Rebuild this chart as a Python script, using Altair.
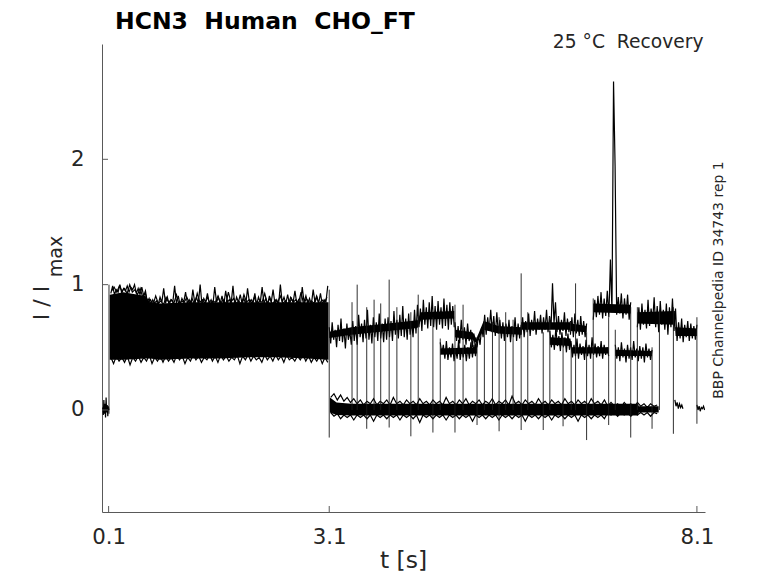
import altair as alt
import pandas as pd

# ---------------- values ----------------
X_TICKS = [0.1, 3.1, 8.1]
Y_TICKS = [0, 1, 2]
X_DOMAIN = [0.01, 8.21]
Y_DOMAIN = [-0.814, 2.92]

# dense cores of the overlaid sweeps: (name, t, lower, upper)
BANDS = [
    ("b1", [0.115, 0.30, 0.60, 0.66, 0.80, 1.20, 1.60, 2.00, 2.40, 2.80, 3.09],
           [0.40, 0.40, 0.41, 0.41, 0.40, 0.41, 0.41, 0.42, 0.42, 0.41, 0.40],
           [0.92, 0.94, 0.91, 0.86, 0.85, 0.86, 0.86, 0.86, 0.86, 0.86, 0.86]),
    ("b2", [3.11, 3.20, 3.40, 7.30, 7.31, 7.58],
           [-0.02, -0.04, -0.045, -0.045, -0.02, -0.02],
           [0.10, 0.06, 0.05, 0.05, 0.03, 0.03]),
    ("ub1", [3.10, 3.40, 3.90, 4.30, 4.35, 4.80],
            [0.575, 0.60, 0.63, 0.655, 0.72, 0.73],
            [0.625, 0.66, 0.69, 0.715, 0.78, 0.79]),
    ("ub2", [4.81, 5.05, 5.11], [0.58, 0.56, 0.53], [0.64, 0.62, 0.56]),
    ("ub3", [5.11, 5.20, 5.40, 5.71], [0.54, 0.64, 0.61, 0.60], [0.58, 0.71, 0.67, 0.66]),
    ("ub4", [5.71, 6.38], [0.64, 0.64], [0.70, 0.70]),
    ("ub5", [6.38, 6.60], [0.63, 0.62], [0.69, 0.67]),
    ("ub6", [6.69, 7.20], [0.78, 0.77], [0.85, 0.84]),
    ("ub7", [7.29, 7.80, 7.81, 8.10], [0.69, 0.68, 0.59, 0.59], [0.78, 0.79, 0.66, 0.65]),
    ("lb1", [4.61, 5.11], [0.44, 0.45], [0.49, 0.50]),
    ("lb2", [6.10, 6.38, 6.40, 6.90], [0.52, 0.51, 0.45, 0.45], [0.58, 0.57, 0.50, 0.50]),
    ("lb3", [6.99, 7.49], [0.43, 0.43], [0.48, 0.47]),
]

# noisy traces: (name, t start, t end, samples)
TOP1 = [0.93, 0.99, 0.92, 0.96, 0.94, 1.00, 0.93, 0.97, 0.95, 0.99, 0.94, 0.98, 0.96, 1.00, 0.93, 0.97, 0.92, 0.98, 0.91, 0.95,
        0.86, 0.89, 0.84, 0.88, 0.85, 0.87, 0.84, 0.90, 0.86, 0.97, 0.85, 0.90, 0.84, 0.88, 0.86, 0.99, 0.85, 0.91, 0.84, 0.89,
        0.86, 0.94, 0.85, 0.88, 0.84, 0.96, 0.86, 0.90, 0.85, 1.00, 0.84, 0.89, 0.86, 0.93, 0.85, 0.88, 0.84, 0.98, 0.86, 0.90,
        0.85, 0.91, 0.84, 0.95, 0.86, 0.88, 0.85, 0.99, 0.84, 0.90, 0.86, 0.92, 0.85, 0.89, 0.84, 0.97, 0.86, 0.88, 0.85, 0.93,
        0.84, 0.90, 0.86, 0.98, 0.85, 0.89, 0.84, 0.91, 0.86, 0.96, 0.85, 0.88, 0.84, 1.00, 0.86, 0.90, 0.85, 0.92, 0.84, 0.89,
        0.86, 0.95, 0.85, 0.88, 0.84, 0.98, 0.86, 0.91, 0.85, 0.89, 0.84, 0.96, 0.86, 0.90, 0.85, 0.93, 0.84, 0.88, 0.86, 0.99]
TOP1B = [0.95, 0.98, 0.94, 0.99, 0.95, 0.97, 0.93, 1.00, 0.94, 0.96, 0.92, 0.97, 0.90, 0.93,
         0.85, 0.88, 0.84, 0.91, 0.85, 0.87, 0.84, 0.90, 0.86, 0.88, 0.85, 0.92, 0.84, 0.87, 0.86, 0.90,
         0.85, 0.89, 0.84, 0.93, 0.86, 0.88, 0.85, 0.90, 0.84, 0.87, 0.86, 0.91, 0.85, 0.88, 0.84, 0.94,
         0.86, 0.89, 0.85, 0.87, 0.84, 0.92, 0.86, 0.88, 0.85, 0.90, 0.84, 0.87, 0.86, 0.93, 0.85, 0.89,
         0.84, 0.88, 0.86, 0.91, 0.85, 0.87, 0.84, 0.90, 0.86, 0.88, 0.85, 0.94, 0.84, 0.89, 0.86, 0.87,
         0.85, 0.91, 0.84, 0.88, 0.86, 0.90]
BOT1 = [0.42, 0.37, 0.43, 0.39, 0.42, 0.38, 0.43, 0.36, 0.42, 0.39, 0.43, 0.38, 0.42, 0.39, 0.44, 0.37, 0.42, 0.39, 0.43, 0.38,
        0.43, 0.39, 0.42, 0.38, 0.44, 0.40, 0.43, 0.37, 0.42, 0.39, 0.44, 0.40, 0.43, 0.38, 0.42, 0.40, 0.44, 0.39, 0.43, 0.38,
        0.44, 0.40, 0.43, 0.39, 0.42, 0.40, 0.44, 0.37, 0.43, 0.40, 0.44, 0.39, 0.43, 0.40, 0.42, 0.38, 0.44, 0.40, 0.43, 0.39,
        0.44, 0.40, 0.43, 0.38, 0.44, 0.40, 0.42, 0.39, 0.43, 0.40, 0.44, 0.39, 0.43, 0.38, 0.42, 0.39, 0.43, 0.37, 0.42, 0.38]
TOP2 = [0.10, 0.13, 0.08, 0.12, 0.07, 0.10, 0.06, 0.09, 0.05, 0.08, 0.04, 0.07, 0.05, 0.09, 0.04, 0.07, 0.05, 0.08, 0.04, 0.10,
        0.05, 0.07, 0.04, 0.08, 0.05, 0.07, 0.04, 0.09, 0.05, 0.07, 0.04, 0.08, 0.05, 0.07, 0.04, 0.10, 0.05, 0.07, 0.04, 0.08,
        0.05, 0.09, 0.04, 0.07, 0.05, 0.08, 0.04, 0.07, 0.05, 0.09, 0.04, 0.07, 0.05, 0.08, 0.04, 0.11, 0.05, 0.07, 0.04, 0.08,
        0.05, 0.07, 0.04, 0.09, 0.05, 0.07, 0.04, 0.08, 0.05, 0.07, 0.04, 0.09, 0.05, 0.07, 0.04, 0.08, 0.05, 0.07, 0.04, 0.09,
        0.05, 0.07, 0.04, 0.08, 0.03, 0.06, 0.03, 0.05, 0.02, 0.06, 0.03, 0.05, 0.02, 0.06, 0.03, 0.05, 0.02, 0.05, 0.03, 0.04]
BOT2 = [-0.02, -0.05, -0.03, -0.07, -0.04, -0.06, -0.04, -0.08, -0.04, -0.06, -0.04, -0.07, -0.04, -0.09, -0.04, -0.06, -0.04, -0.07, -0.04, -0.06,
        -0.04, -0.08, -0.04, -0.06, -0.04, -0.07, -0.04, -0.10, -0.04, -0.06, -0.04, -0.07, -0.04, -0.06, -0.04, -0.08, -0.04, -0.06, -0.04, -0.07,
        -0.04, -0.06, -0.04, -0.09, -0.04, -0.06, -0.04, -0.07, -0.04, -0.06, -0.04, -0.08, -0.04, -0.06, -0.04, -0.07, -0.04, -0.06, -0.04, -0.09,
        -0.04, -0.06, -0.04, -0.07, -0.04, -0.06, -0.04, -0.08, -0.04, -0.06, -0.04, -0.07, -0.04, -0.06, -0.04, -0.09, -0.04, -0.06, -0.04, -0.07,
        -0.04, -0.06, -0.04, -0.07, -0.02, -0.04, -0.02, -0.05, -0.02, -0.04, -0.02, -0.05, -0.02, -0.04, -0.02, -0.04, -0.02, -0.05, -0.02, -0.03]
PRE = [0.02, -0.04, 0.08, -0.03, 0.05, -0.06, 0.10, -0.02, 0.04, -0.05, 0.03, 0.00]
U1 = [0.66, 0.53, 0.70, 0.56, 0.64, 0.50, 0.68, 0.55, 0.73, 0.54, 0.65, 0.49, 0.69, 0.56, 0.63, 0.52,
      0.71, 0.55, 0.67, 0.52, 0.76, 0.58, 0.69, 0.54, 0.72, 0.57, 0.80, 0.56, 0.68, 0.53, 0.74, 0.58, 0.70, 0.55, 0.77, 0.57,
      0.69, 0.54, 0.73, 0.56,
      0.74, 0.58, 0.71, 0.55, 0.79, 0.60, 0.72, 0.57, 0.76, 0.59, 0.83, 0.58, 0.73, 0.56, 0.77, 0.60, 0.71, 0.58, 0.80, 0.61,
      0.84, 0.66, 0.81, 0.63, 0.88, 0.68, 0.82, 0.65, 0.86, 0.67, 0.91, 0.66, 0.83, 0.64, 0.87, 0.68, 0.82, 0.65, 0.89, 0.67,
      0.84, 0.64, 0.86, 0.68, 0.83, 0.66]
U2 = [0.70, 0.55, 0.67, 0.53, 0.72, 0.56, 0.66, 0.52, 0.69, 0.55, 0.64, 0.50, 0.61, 0.48, 0.58]
U3 = [0.50, 0.60, 0.52, 0.66, 0.58, 0.76, 0.60, 0.74, 0.63, 0.80, 0.62, 0.75, 0.59, 0.78, 0.61, 0.72, 0.57, 0.70, 0.55, 0.69,
      0.58, 0.72, 0.54, 0.67, 0.58, 0.74, 0.55, 0.69, 0.57, 0.68]
U4 = [0.60, 0.74, 0.58, 0.71, 0.62, 0.77, 0.59, 0.72, 0.63, 0.79, 0.60, 0.73, 0.64, 0.76, 0.61, 0.74, 0.64, 0.80, 0.62, 0.75,
      0.65, 1.01, 0.69, 0.86, 0.62, 0.75, 0.60, 0.72, 0.63, 0.78, 0.59, 0.73, 0.62, 0.71]
U5 = [0.60, 0.74, 0.58, 0.77, 0.61, 0.72, 0.59, 0.75, 0.60, 0.71, 0.58, 0.69]
U6 = [0.72, 0.88, 0.74, 0.91, 0.76, 0.94, 0.73, 0.89, 0.75, 0.95, 0.74, 1.20, 0.78, 2.62, 1.94, 0.76, 0.90, 0.77, 0.93, 0.73,
      0.89, 0.76, 0.92, 0.72, 0.86]
U7 = [0.66, 0.82, 0.64, 0.85, 0.68, 0.80, 0.65, 0.88, 0.67, 0.81, 0.70, 0.90, 0.66, 0.83, 0.62, 0.87, 0.68, 0.80, 0.64, 0.85,
      0.60, 0.82, 0.66, 0.89, 0.63, 0.81, 0.55, 0.70, 0.57, 0.73, 0.54, 0.68, 0.58, 0.71, 0.55, 0.69, 0.57, 0.67, 0.56, 0.68]
L1 = [0.54, 0.45, 0.52, 0.41, 0.55, 0.40, 0.50, 0.42, 0.53, 0.39, 0.49, 0.41, 0.56, 0.40, 0.49, 0.42, 0.52, 0.39, 0.50, 0.41,
      0.54, 0.42, 0.52, 0.43, 0.53]
L2 = [0.63, 0.50, 0.60, 0.48, 0.66, 0.51, 0.59, 0.47, 0.62, 0.50, 0.58, 0.46, 0.61, 0.48,
      0.55, 0.42, 0.52, 0.43, 0.57, 0.41, 0.53, 0.44, 0.51, 0.40, 0.56, 0.43, 0.52, 0.41, 0.58, 0.44, 0.53, 0.42, 0.51, 0.43,
      0.55, 0.41, 0.52, 0.44, 0.50, 0.43]
L3 = [0.52, 0.41, 0.50, 0.39, 0.54, 0.42, 0.49, 0.38, 0.52, 0.41, 0.50, 0.40, 0.55, 0.42, 0.49, 0.39, 0.51, 0.41, 0.50, 0.38,
      0.53, 0.42, 0.49, 0.40, 0.48]
S1 = [0.08, 0.03, 0.06, 0.01, 0.05, 0.02, 0.04, 0.01]
S2 = [0.04, 0.00, 0.03, -0.01, 0.02, 0.01, 0.03, 0.00]

SEGMENTS = [
    ("top1", 0.13, 3.08, TOP1), ("top1b", 0.14, 3.07, TOP1B), ("bot1", 0.13, 3.08, BOT1),
    ("top2", 3.12, 7.56, TOP2), ("bot2", 3.12, 7.56, BOT2),
    ("pre", 0.02, 0.104, PRE),
    ("u1", 3.10, 4.80, U1), ("u2", 4.81, 5.11, U2), ("u3", 5.11, 5.71, U3),
    ("u4", 5.71, 6.38, U4), ("u5", 6.38, 6.60, U5), ("u6", 6.69, 7.20, U6),
    ("u7", 7.29, 8.10, U7),
    ("l1", 4.61, 5.11, L1), ("l2", 6.10, 6.90, L2), ("l3", 6.99, 7.49, L3),
    ("s1", 7.80, 7.91, S1), ("s2", 8.10, 8.205, S2),
]

# vertical transitions (t, bottom, top)
RULE_T = [0.105, 3.10, 3.41, 3.48, 3.61, 3.71, 3.80, 3.915, 4.02, 4.21, 4.31, 4.51, 4.61, 4.81, 4.92,
          5.11, 5.21, 5.32, 5.41, 5.50, 5.60, 5.71, 5.80, 6.01, 6.10, 6.28, 6.39, 6.45, 6.60, 6.69,
          6.90, 6.99, 7.20, 7.29, 7.49, 7.59, 7.78, 8.10]
RULE_LO = [-0.03, -0.22, 0.0, 0.0, -0.15, 0.0, 0.0, -0.14, 0.0, -0.21, 0.0, -0.18, 0.0, -0.18, 0.0,
           -0.12, 0.0, 0.0, -0.17, 0.0, 0.0, -0.16, 0.0, -0.16, 0.0, -0.13, 0.0, 0.0, -0.24, 0.0,
           -0.12, 0.0, -0.22, 0.0, -0.15, 0.0, -0.19, -0.11]
RULE_HI = [1.00, 0.96, 0.86, 1.00, 0.82, 0.88, 0.85, 1.04, 0.82, 0.78, 0.92, 0.74, 0.57, 0.84, 0.84,
           0.50, 0.72, 0.70, 0.74, 0.78, 0.72, 1.09, 0.78, 0.62, 0.74, 0.58, 0.52, 1.01, 0.62, 0.89,
           0.74, 0.64, 0.82, 0.82, 0.50, 0.80, 0.82, 0.74]

TITLE = "HCN3\u00a0 Human\u00a0 CHO_FT"
CORNER = "25 \u00b0C\u00a0 Recovery"
SIDE = "BBP Channelpedia ID 34743 rep 1"

# ---------------- build tables ----------------
rows = []
for name, t0, t1, vals in SEGMENTS:
    n = len(vals)
    for i, v in enumerate(vals):
        rows.append({"seg": name, "t": t0 + (t1 - t0) * i / (n - 1), "y": v})
lines_df = pd.DataFrame(rows)
band_df = pd.concat([pd.DataFrame({"band": name, "t": ts, "y": lo, "y2": hi})
                     for name, ts, lo, hi in BANDS])
rule_df = pd.DataFrame({"t": RULE_T, "y": RULE_LO, "y2": RULE_HI})
xt_df = pd.DataFrame({"t": X_TICKS})
yt_df = pd.DataFrame({"y": Y_TICKS})

W, H = 603, 468
FONT = "DejaVu Sans"
xs = alt.Scale(domain=X_DOMAIN, nice=False, zero=False)
ys = alt.Scale(domain=Y_DOMAIN, nice=False, zero=False)
xaxis = alt.Axis(values=X_TICKS, format=".1f", title=None, grid=False, ticks=False,
                 labelFontSize=21.3, labelFont=FONT, labelColor="#262626", labelPadding=14,
                 domainColor="#595959", domainWidth=1)
yaxis = alt.Axis(values=Y_TICKS, format="d", title=None, grid=False, ticks=False,
                 labelFontSize=21.3, labelFont=FONT, labelColor="#262626", labelPadding=18,
                 domainColor="#595959", domainWidth=1)
X = alt.X("t:Q", scale=xs, axis=xaxis)
Y = alt.Y("y:Q", scale=ys, axis=yaxis)

bands = alt.Chart(band_df).mark_area(color="black", opacity=1, clip=True).encode(
    x=X, y=Y, y2="y2:Q", detail="band:N")
traces = alt.Chart(lines_df).mark_line(color="black", strokeWidth=1.2, clip=True).encode(
    x=X, y=Y, detail="seg:N")
rules = alt.Chart(rule_df).mark_rule(color="#1a1a1a", strokeWidth=0.9, clip=True).encode(
    x=X, y=Y, y2="y2:Q")
xticks = alt.Chart(xt_df).mark_rule(color="#595959").encode(
    x=X, y=alt.value(H), y2=alt.value(H - 6))
yticks = alt.Chart(yt_df).mark_rule(color="#595959").encode(
    y=Y, x=alt.value(0), x2=alt.value(6))


def label(text, x, y, size, bold=False, align="left", angle=0):
    return alt.Chart(pd.DataFrame({"s": [text]})).mark_text(
        font=FONT, fontSize=size, fontWeight="bold" if bold else "normal",
        color="black" if bold else "#262626", align=align, baseline="alphabetic",
        angle=angle).encode(x=alt.value(x), y=alt.value(y), text="s:N")


texts = [
    label(TITLE, 13, -15.5, 23.5, bold=True),
    label(CORNER, 601.5, 3.7, 18.7, align="right"),
    label(SIDE, 620.5, 236, 14, align="center", angle=270),
    label("I / I", -53.5, 259, 22, align="center", angle=270),
    label("max", -40, 212.5, 19, align="center", angle=270),
    label("t [s]", 301.5, 524, 23.5, align="center"),
]

chart = alt.layer(bands, traces, rules, xticks, yticks, *texts).properties(
    width=W, height=H,
    padding={"left": 94, "top": 36, "right": 60, "bottom": 63},
    autosize="none", background="white",
).configure_view(stroke=None)

chart.save("out.html", embed_options={"renderer": "svg", "actions": False})
